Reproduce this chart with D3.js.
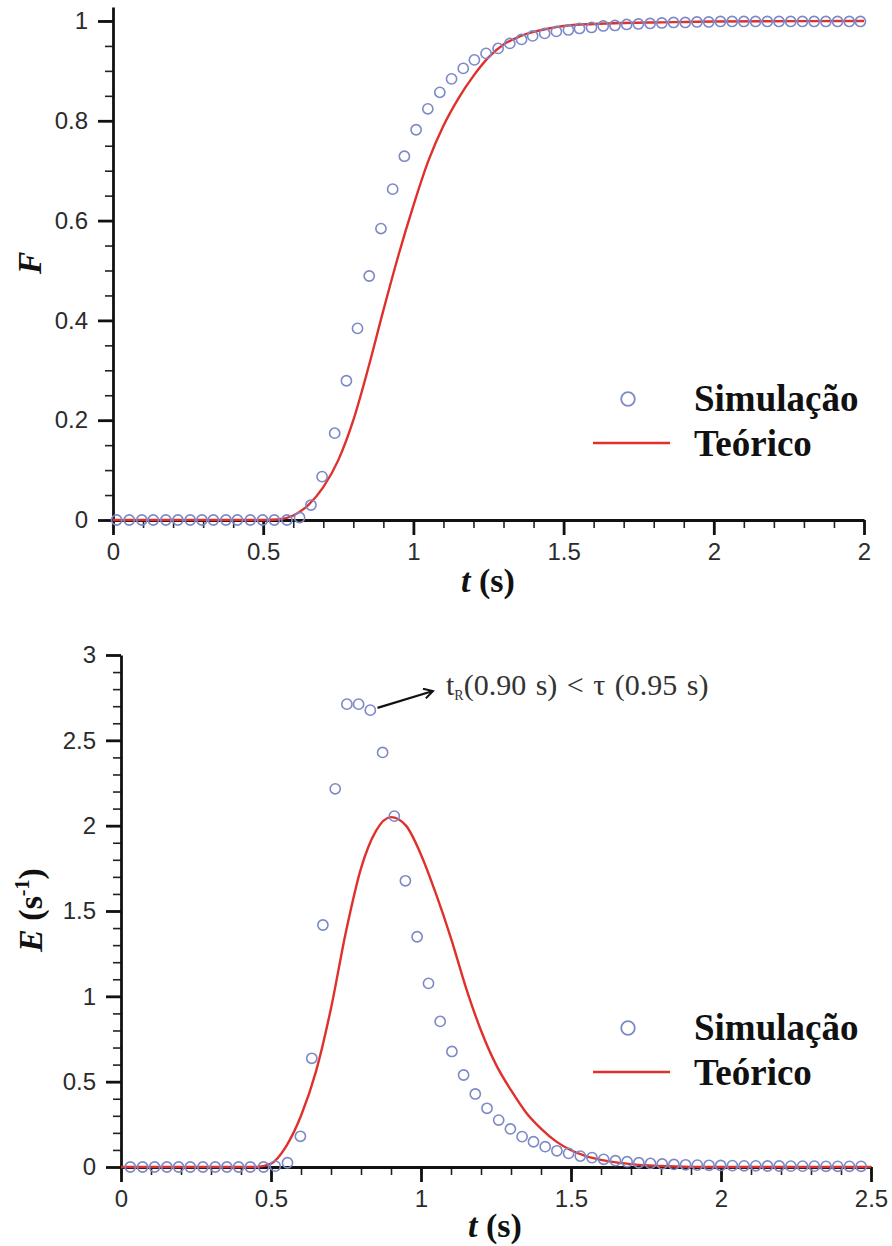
<!DOCTYPE html>
<html>
<head>
<meta charset="utf-8">
<script src="https://cdn.jsdelivr.net/npm/d3@7"></script>
<style>
  html, body { margin: 0; padding: 0; background: #fff; }
  svg { display: block; }
</style>
</head>
<body>
<svg id="chart" width="892" height="1246"></svg>
<script>
// ---------------- DATA ----------------
// Top panel: cumulative distribution F(t)
const tSimTop = [0.012,0.054,0.096,0.134,0.176,0.216,0.257,0.296,0.334,0.376,0.414,0.457,0.498,0.537,0.579,
  0.621,0.659,0.696,0.738,0.777,0.814,0.853,0.892,0.931,0.970,1.009,1.048,1.088,1.127,1.166,1.203,1.242,
  1.282,1.321,1.360,1.397,1.437,1.476,1.516,1.553,1.593,1.632,1.671,1.710,1.749,1.788,1.827,1.866,1.905,
  1.944,1.983,2.022,2.061,2.100,2.139,2.178,2.217,2.256,2.295,2.334,2.373,2.412,2.451,2.488];
const simF = [0,0,0,0,0,0,0,0,0,0,0,0,0,0,0,
  0.005,0.03,0.087,0.174,0.279,0.384,0.489,0.584,0.663,0.729,0.782,0.824,0.857,0.884,0.905,0.922,0.935,
  0.945,0.955,0.963,0.970,0.975,0.979,0.982,0.985,0.987,0.990,0.991,0.993,0.994,0.995,0.996,0.997,0.997,
  0.998,0.998,0.999,0.999,0.999,0.999,0.999,0.999,0.999,0.999,0.999,0.999,0.999,0.999,0.999];
const tTheoTop = [0,0.50,0.55,0.60,0.65,0.70,0.75,0.80,0.85,0.90,0.95,1.00,1.05,1.10,1.15,1.20,1.25,
  1.30,1.35,1.40,1.45,1.50,1.60,1.70,1.80,2.00,2.50];
const theoF = [0,0,0.001,0.009,0.03,0.066,0.12,0.2,0.305,0.42,0.53,0.63,0.72,0.79,0.845,0.89,0.927,
  0.953,0.968,0.978,0.985,0.99,0.994,0.996,0.997,0.999,1.0];

// Bottom panel: residence time distribution E(t)
const tSimBot = [0.031,0.072,0.112,0.153,0.192,0.231,0.273,0.314,0.353,0.392,0.431,0.475,0.514,0.555,
  0.598,0.636,0.673,0.714,0.753,0.792,0.831,0.872,0.911,0.948,0.987,1.025,1.064,1.103,1.142,1.181,1.220,
  1.259,1.298,1.337,1.375,1.414,1.453,1.492,1.531,1.570,1.609,1.648,1.687,1.726,1.765,1.804,1.843,1.882,
  1.921,1.960,1.999,2.038,2.077,2.116,2.155,2.194,2.233,2.272,2.311,2.350,2.389,2.428,2.467];
const simE = [0,0,0,0,0,0,0,0,0,0,0,0,0.005,0.025,
  0.18,0.637,1.418,2.216,2.712,2.712,2.677,2.429,2.056,1.677,1.349,1.076,0.853,0.677,0.539,0.428,0.344,
  0.275,0.223,0.178,0.148,0.119,0.095,0.080,0.064,0.055,0.045,0.037,0.031,0.025,0.021,0.018,0.015,0.013,
  0.011,0.010,0.009,0.008,0.007,0.007,0.006,0.006,0.005,0.005,0.005,0.004,0.004,0.004,0.004];
const tTheoBot = [0,0.45,0.50,0.55,0.60,0.65,0.70,0.75,0.80,0.85,0.90,0.95,1.00,1.05,1.10,1.15,1.20,1.25,
  1.30,1.35,1.40,1.45,1.50,1.55,1.60,1.65,1.70,1.75,1.80,1.85,1.90,1.95,2.50];
const theoE = [0,0,0.02,0.12,0.30,0.56,0.93,1.38,1.75,1.97,2.05,2.0,1.83,1.6,1.34,1.05,0.80,0.60,
  0.45,0.32,0.225,0.15,0.098,0.064,0.042,0.027,0.017,0.010,0.006,0.003,0.001,0,0];

// Ticks
const xTickValues = [0,0.5,1,1.5,2,2.5];
const xTickLabelsTop = ["0","0.5","1","1.5","2","2"];
const xTickLabelsBot = ["0","0.5","1","1.5","2","2.5"];
const yTickValuesTop = [0,0.2,0.4,0.6,0.8,1];
const yTickLabelsTop = ["0","0.2","0.4","0.6","0.8","1"];
const yTickValuesBot = [0,0.5,1,1.5,2,2.5,3];
const yTickLabelsBot = ["0","0.5","1","1.5","2","2.5","3"];
const legendLabels = ["Simulação","Teórico"];
const annotationMain = "(0.90 s) < τ (0.95 s)";

// ---------------- STYLE ----------------
const CIRCLE = "#7c89c6";
const RED = "#e0302b";
const svg = d3.select("#chart");
svg.append("rect").attr("width",892).attr("height",1246).attr("fill","#fff");

svg.append("defs").append("marker")
  .attr("id","arrow").attr("viewBox","0 0 12 12").attr("refX",10).attr("refY",6)
  .attr("markerWidth",12).attr("markerHeight",12).attr("markerUnits","userSpaceOnUse")
  .attr("orient","auto")
  .append("path").attr("d","M1,1 L10,6 L1,11").attr("fill","none")
  .attr("stroke","#111").attr("stroke-width",2);

function drawPanel(cfg) {
  const g = svg.append("g");
  const x = cfg.x, y = cfg.y;
  // minor ticks
  g.append("g").attr("transform",`translate(0,${cfg.y0})`)
    .call(d3.axisBottom(x).tickValues(cfg.xMinor).tickSize(8).tickFormat("").tickSizeOuter(0))
    .call(s => { s.select(".domain").remove(); s.selectAll("line").attr("stroke","#222").attr("stroke-width",1.6); });
  g.append("g").attr("transform",`translate(${cfg.x0},0)`)
    .call(d3.axisLeft(y).tickValues(cfg.yMinor).tickSize(8).tickFormat("").tickSizeOuter(0))
    .call(s => { s.select(".domain").remove(); s.selectAll("line").attr("stroke","#222").attr("stroke-width",1.6); });
  // major axes
  const ax = g.append("g").attr("transform",`translate(0,${cfg.y0})`)
    .call(d3.axisBottom(x).tickValues(xTickValues).tickSize(15).tickPadding(8).tickSizeOuter(0)
      .tickFormat((d,i)=>cfg.xLabels[i]));
  const ay = g.append("g").attr("transform",`translate(${cfg.x0},0)`)
    .call(d3.axisLeft(y).tickValues(cfg.yTicks).tickSize(15).tickPadding(10).tickSizeOuter(0)
      .tickFormat((d,i)=>cfg.yLabels[i]));
  [ax, ay].forEach(a => {
    a.select(".domain").attr("stroke","#111").attr("stroke-width",2.8);
    a.selectAll(".tick line").attr("stroke","#111").attr("stroke-width",2.8);
    a.selectAll(".tick text").attr("fill","#2b2b2b").style("font-family","'Liberation Sans', Arial, sans-serif")
      .style("font-size","24px");
  });

  // theory line
  const line = d3.line().x(d=>x(d[0])).y(d=>y(d[1])).curve(d3.curveMonotoneX);
  g.append("path").datum(cfg.tTheo.map((t,i)=>[t,cfg.vTheo[i]]))
    .attr("d",line).attr("fill","none").attr("stroke",RED).attr("stroke-width",2.4);
  // simulation circles
  g.append("g").selectAll("circle").data(cfg.tSim.map((t,i)=>[t,cfg.vSim[i]])).join("circle")
    .attr("cx",d=>x(d[0])).attr("cy",d=>y(d[1])).attr("r",5.1)
    .attr("fill","none").attr("stroke",CIRCLE).attr("stroke-width",1.6);

  // legend
  const lg = g.append("g");
  lg.append("circle").attr("cx",628).attr("cy",cfg.legY).attr("r",6.8)
    .attr("fill","none").attr("stroke",CIRCLE).attr("stroke-width",1.8);
  lg.append("line").attr("x1",593).attr("x2",670).attr("y1",cfg.legY+44).attr("y2",cfg.legY+44)
    .attr("stroke",RED).attr("stroke-width",2.6);
  lg.selectAll("text").data(legendLabels).join("text")
    .attr("x",694).attr("y",(d,i)=>cfg.legY+12+i*44.5)
    .style("font-family","'Liberation Serif', 'Times New Roman', serif").style("font-weight","bold")
    .style("font-size","37px").attr("fill","#111").text(d=>d);

  // x label
  const xl = g.append("text").attr("x",cfg.xLabX).attr("y",cfg.xLabY).attr("text-anchor","middle")
    .style("font-family","'Liberation Serif', 'Times New Roman', serif").style("font-weight","bold")
    .style("font-size","34px").attr("fill","#111");
  xl.append("tspan").style("font-style","italic").text("t");
  xl.append("tspan").text(" (s)");
  return g;
}

// Top panel
const xTop = d3.scaleLinear().domain([0,2.5]).range([113,864]);
const yTop = d3.scaleLinear().domain([0,1.028]).range([520,7]);
drawPanel({
  x: xTop, y: yTop, x0: 113, y0: 520,
  xMinor: d3.range(0,2.51,0.1), yMinor: d3.range(0,1.001,0.05),
  xLabels: xTickLabelsTop, yTicks: yTickValuesTop, yLabels: yTickLabelsTop,
  tTheo: tTheoTop, vTheo: theoF, tSim: tSimTop, vSim: simF,
  legY: 399, xLabX: 488, xLabY: 592
});
svg.append("text").attr("transform","translate(41,263) rotate(-90)").attr("text-anchor","middle")
  .style("font-family","'Liberation Serif', 'Times New Roman', serif").style("font-weight","bold")
  .style("font-style","italic").style("font-size","34px").attr("fill","#111").text("F");

// Bottom panel
const xBot = d3.scaleLinear().domain([0,2.5]).range([121,871]);
const yBot = d3.scaleLinear().domain([0,3]).range([1167,655]);
drawPanel({
  x: xBot, y: yBot, x0: 121, y0: 1167,
  xMinor: d3.range(0,2.51,0.1), yMinor: d3.range(0,3.001,0.1),
  xLabels: xTickLabelsBot, yTicks: yTickValuesBot, yLabels: yTickLabelsBot,
  tTheo: tTheoBot, vTheo: theoE, tSim: tSimBot, vSim: simE,
  legY: 1028, xLabX: 495, xLabY: 1237
});
const yl = svg.append("text").attr("transform","translate(42,910) rotate(-90)").attr("text-anchor","middle")
  .style("font-family","'Liberation Serif', 'Times New Roman', serif").style("font-weight","bold")
  .style("font-size","34px").attr("fill","#111");
yl.append("tspan").style("font-style","italic").text("E");
yl.append("tspan").text(" (s");
yl.append("tspan").attr("dy",-13).style("font-size","20px").text("-1");
yl.append("tspan").attr("dy",13).text(")");

// Annotation
const ann = svg.append("text").attr("x",446).attr("y",695)
  .style("font-family","'Liberation Serif', 'Times New Roman', serif").style("font-size","30px")
  .style("word-spacing","2px").attr("fill","#333");
ann.append("tspan").text("t");
ann.append("tspan").attr("dy",5).style("font-size","14px").text("R");
ann.append("tspan").attr("dy",-5).text(annotationMain);
svg.append("line").attr("x1",xBot(0.855)).attr("y1",yBot(2.69)).attr("x2",433).attr("y2",691)
  .attr("stroke","#111").attr("stroke-width",2.2).attr("marker-end","url(#arrow)");
</script>
</body>
</html>
